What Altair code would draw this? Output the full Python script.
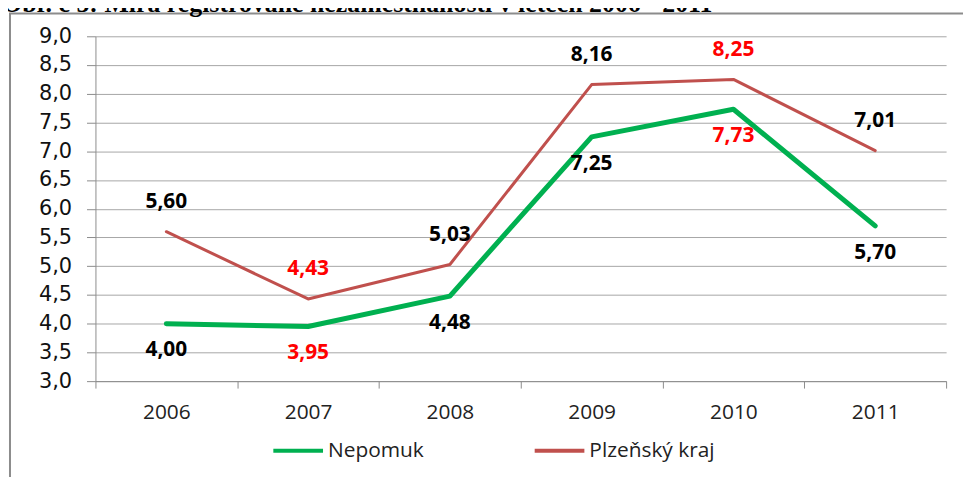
import altair as alt
import pandas as pd

# ---- data -----------------------------------------------------------------
years = ["2006", "2007", "2008", "2009", "2010", "2011"]
nepomuk = [4.00, 3.95, 4.48, 7.25, 7.73, 5.70]
plzen = [5.60, 4.43, 5.03, 8.16, 8.25, 7.01]
series_names = ["Nepomuk", "Plzeňský kraj"]
series_colors = ["#00B050", "#C0504D"]
highlight_years = ["2007", "2010"]
y_ticks = [3.0, 3.5, 4.0, 4.5, 5.0, 5.5, 6.0, 6.5, 7.0, 7.5, 8.0, 8.5, 9.0]
title_text = "Obr. č 5: Míra registrované nezaměstnanosti v letech 2006 - 2011"

rows = []
for name, vals in zip(series_names, [nepomuk, plzen]):
    for yr, v in zip(years, vals):
        rows.append({"rok": yr, "hodnota": v, "serie": name,
                     "popis": f"{v:.2f}".replace(".", ","),
                     "zvyraznit": yr in highlight_years})
df = pd.DataFrame(rows)

W, H = 856, 347

base = alt.Chart(df)

x_enc = alt.X("rok:N", sort=years, title=None,
              scale=alt.Scale(paddingInner=0, paddingOuter=0),
              axis=alt.Axis(labelAngle=0, tickBand="extent", ticks=True,
                            tickSize=7, tickColor="#8c8c8c", domainColor="#8c8c8c",
                            labelFont="Open Sans", labelFontSize=21,
                            labelColor="#222222", labelPadding=14, grid=False,
                            labelOverlap=False))
y_enc = alt.Y("hodnota:Q", title=None,
              scale=alt.Scale(domain=[3, 9], nice=False, zero=False),
              axis=alt.Axis(values=y_ticks, tickCount=13,
                            labelExpr="replace(format(datum.value, '.1f'), '.', ',')",
                            labelFont="DejaVu Sans", labelFontSize=21,
                            labelColor="#111111", labelPadding=15,
                            labelOverlap=False,
                            tickSize=9, tickColor="#8c8c8c",
                            domainColor="#8c8c8c", grid=True,
                            gridColor="#a6a6a6", gridWidth=1))

lines = base.mark_line(strokeCap="round", strokeJoin="round").encode(
    x=x_enc,
    y=y_enc,
    color=alt.Color("serie:N", sort=series_names,
                    scale=alt.Scale(domain=series_names, range=series_colors),
                    legend=alt.Legend(title=None, orient="none", legendX=177,
                                      legendY=390, direction="horizontal",
                                      symbolType="stroke", symbolSize=2500,
                                      symbolStrokeWidth=4, labelFont="Open Sans",
                                      labelFontSize=21, labelColor="#222222",
                                      columnPadding=103, labelOffset=3,
                                      padding=0)),
    strokeWidth=alt.StrokeWidth("serie:N",
                                scale=alt.Scale(domain=series_names, range=[5, 3]),
                                legend=None),
    order=alt.Order("rok:N"),
)

label_color = alt.condition("datum.zvyraznit", alt.value("#FF0000"), alt.value("#000000"))

labels_nep = base.transform_filter(alt.datum.serie == "Nepomuk").mark_text(
    font="Open Sans", fontWeight="bold", fontSize=21, dy=27
).encode(x=x_enc, y=y_enc, text="popis:N", color=label_color)

labels_plz = base.transform_filter(alt.datum.serie == "Plzeňský kraj").mark_text(
    font="Open Sans", fontWeight="bold", fontSize=21, dy=-30
).encode(x=x_enc, y=y_enc, text="popis:N", color=label_color)

deco = alt.Chart(pd.DataFrame({"t": [title_text]}))
frame = deco.mark_rect(filled=False, stroke="#8c8c8c", strokeWidth=2).encode(
    x=alt.value(-86), x2=alt.value(W + 60), y=alt.value(-23), y2=alt.value(H + 200))
title = deco.mark_text(align="left", baseline="alphabetic", font="Liberation Serif",
                       fontWeight="bold", fontSize=26, color="#000000").encode(
    x=alt.value(-94), y=alt.value(-24), text="t:N")

chart = alt.layer(frame, title, lines, labels_nep, labels_plz).resolve_scale(
    color="independent"
).properties(
    width=W, height=H,
    padding={"left": 88, "top": 27, "right": 17, "bottom": 95},
    autosize=alt.AutoSizeParams(type="none"),
).configure_view(stroke=None)

chart.save("out.html", embed_options={"renderer": "svg", "actions": False})
